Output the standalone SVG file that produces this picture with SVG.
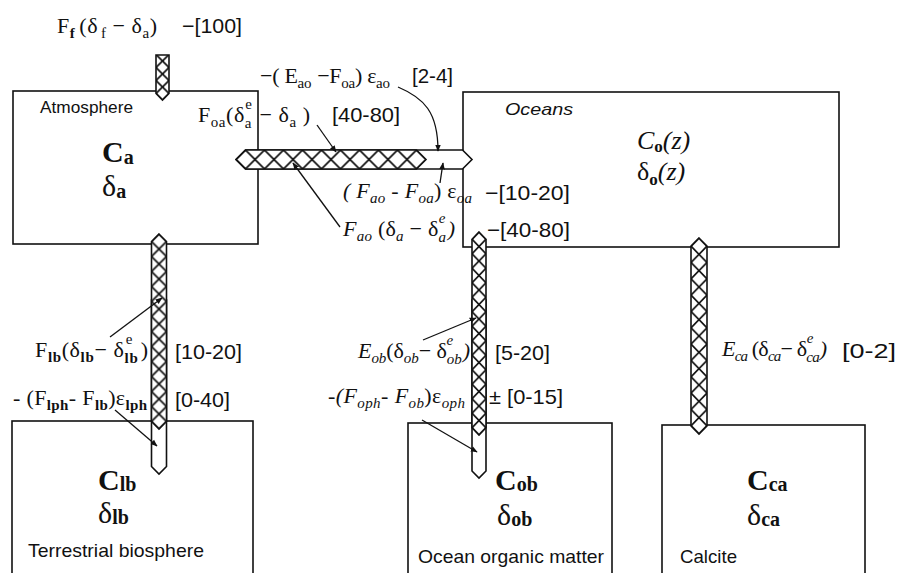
<svg xmlns="http://www.w3.org/2000/svg" width="897" height="573" viewBox="0 0 897 573">
<style>
.box{fill:none;stroke:#111;stroke-width:1.6}
.tube{fill:#fff;stroke:#111;stroke-width:1.6}
.hatch{stroke:#111;stroke-width:1.6}
.hx{stroke:#111;stroke-width:1.7;fill:none}
.ld{fill:none;stroke:#111;stroke-width:1.3}
.s{font-family:"Liberation Serif","Times New Roman",serif;fill:#111}
.f{font-size:22px}
.sb{font-size:15px}
.i{font-style:italic}
.up{font-style:normal}
.n{font-family:"Liberation Sans",Arial,sans-serif;fill:#111}
.b{font-weight:bold}
</style>
<defs>
<pattern id="pf" patternUnits="userSpaceOnUse" x="156" y="93.5" width="13" height="13"><rect width="13" height="13" fill="#fff"/><path class="hx" d="M0,0L13,13M13,0L0,13"/></pattern>
<pattern id="ph" patternUnits="userSpaceOnUse" x="226.5" y="150" width="19" height="19"><rect width="19" height="19" fill="#fff"/><path class="hx" d="M0,0L19,19M19,0L0,19"/></pattern>
<pattern id="p1" patternUnits="userSpaceOnUse" x="151.5" y="226.5" width="15" height="15"><rect width="15" height="15" fill="#fff"/><path class="hx" d="M0,0L15,15M15,0L0,15"/></pattern>
<pattern id="p2" patternUnits="userSpaceOnUse" x="472" y="224.75" width="14" height="14.5"><rect width="14" height="14.5" fill="#fff"/><path class="hx" d="M0,0L14,14.5M14,0L0,14.5"/></pattern>
<pattern id="p3" patternUnits="userSpaceOnUse" x="691" y="229.835" width="16" height="16.33"><rect width="16" height="16.33" fill="#fff"/><path class="hx" d="M0,0L16,16.33M16,0L0,16.33"/></pattern>
<marker id="ah" viewBox="0 0 10 10" refX="9" refY="5" markerWidth="7" markerHeight="7" orient="auto" markerUnits="userSpaceOnUse"><path d="M0,1 L10,5 L0,9 z" fill="#111"/></marker>
</defs>
<rect width="897" height="573" fill="#fff"/>

<g id="atmosphere">
<rect class="box" x="13" y="91" width="245" height="153"/>
<text class="n" x="40" y="113" font-size="17" textLength="93" lengthAdjust="spacingAndGlyphs">Atmosphere</text>
<text class="s b" x="102" y="162" font-size="30">C<tspan font-size="20" dy="2">a</tspan></text>
<text class="s" x="102" y="196" font-size="30">δ<tspan class="b" font-size="20" dy="2">a</tspan></text>
</g>

<g id="oceans">
<rect class="box" x="463" y="92" width="376" height="155"/>
<text class="n i" x="505" y="115" font-size="17" textLength="68" lengthAdjust="spacingAndGlyphs">Oceans</text>
<text class="s" x="637" y="149" font-size="26"><tspan class="i">C</tspan><tspan class="b" font-size="17" dy="3">o</tspan><tspan class="i" dy="-3">(z)</tspan></text>
<text class="s" x="637" y="180" font-size="26">δ<tspan class="b" font-size="17" dy="5">o</tspan><tspan class="i" dy="-5">(z)</tspan></text>
</g>

<g id="terrestrial-biosphere">
<rect class="box" x="12" y="421" width="241" height="200"/>
<text class="s b" x="98" y="490" font-size="30">C<tspan font-size="20" dy="1">lb</tspan></text>
<text class="s" x="98" y="523" font-size="30">δ<tspan class="b" font-size="20" dy="1">lb</tspan></text>
<text class="n" x="28" y="557" font-size="19" textLength="176" lengthAdjust="spacingAndGlyphs">Terrestrial biosphere</text>
</g>

<g id="ocean-organic-matter">
<rect class="box" x="408" y="423" width="204" height="200"/>
<text class="s b" x="495" y="490" font-size="30">C<tspan font-size="20" dy="1">ob</tspan></text>
<text class="s" x="497" y="525" font-size="30">δ<tspan class="b" font-size="20" dy="1">ob</tspan></text>
<text class="n" x="418" y="563" font-size="19" textLength="186" lengthAdjust="spacingAndGlyphs">Ocean organic matter</text>
</g>

<g id="calcite">
<rect class="box" x="662" y="425" width="203" height="200"/>
<text class="s b" x="747" y="490" font-size="30">C<tspan font-size="20" dy="1">ca</tspan></text>
<text class="s" x="747" y="525" font-size="30">δ<tspan class="b" font-size="20" dy="1">ca</tspan></text>
<text class="n" x="680" y="563" font-size="19" textLength="57" lengthAdjust="spacingAndGlyphs">Calcite</text>
</g>

<g id="connectors">
<polygon class="hatch" fill="url(#pf)" points="156,55 169,55 169,93.5 162.5,100 156,93.5"/>
<polygon class="tube" points="236,159.5 245.5,150 462.5,150 472,159.5 462.5,169 245.5,169"/>
<polygon class="hatch" fill="url(#ph)" points="236,159.5 245.5,150 416.5,150 426,159.5 416.5,169 245.5,169"/>
<polygon class="tube" points="151.5,300 166.5,300 166.5,466.5 159,474 151.5,466.5"/>
<polygon class="hatch" fill="url(#p1)" points="159,234 166.5,241.5 166.5,421.5 159,429 151.5,421.5 151.5,241.5"/>
<polygon class="tube" points="472,300 486,300 486,471 479,478 472,471"/>
<polygon class="hatch" fill="url(#p2)" points="479,232 486,239.25 486,427.75 479,435 472,427.75 472,239.25"/>
<polygon class="hatch" fill="url(#p3)" points="699,238 707,246.165 707,425.835 699,434 691,425.835 691,246.165"/>

<line class="ld" x1="317" y1="125" x2="336" y2="152" marker-end="url(#ah)"/>
<line class="ld" x1="340" y1="227" x2="293" y2="163" marker-end="url(#ah)"/>
<line class="ld" x1="440" y1="183" x2="443" y2="163" marker-end="url(#ah)"/>
<path class="ld" d="M398,87 C424,98 438,112 438,151" marker-end="url(#ah)"/>
<line class="ld" x1="110" y1="337" x2="162" y2="298" marker-end="url(#ah)"/>
<line class="ld" x1="115" y1="410" x2="157" y2="446" marker-end="url(#ah)"/>
<line class="ld" x1="423" y1="340" x2="476" y2="318" marker-end="url(#ah)"/>
<line class="ld" x1="422" y1="420" x2="477" y2="452" marker-end="url(#ah)"/>

<text class="s f" x="57" y="33" textLength="100">F<tspan class="b sb" dy="5">f</tspan><tspan dy="-5" dx="4">(δ</tspan><tspan class="sb" dy="5" dx="3">f</tspan><tspan dy="-5"> − δ</tspan><tspan class="sb" dy="5">a</tspan><tspan dy="-5">)</tspan></text>
<text class="n" x="182" y="33" font-size="21" textLength="60" lengthAdjust="spacingAndGlyphs">−[100]</text>

<text class="s f" x="260" y="83" textLength="130">−( E<tspan class="sb" dy="5">ao</tspan><tspan dy="-5" dx="6">−F</tspan><tspan class="sb" dy="5">oa</tspan><tspan dy="-5">) ε</tspan><tspan class="sb" dy="5">ao</tspan></text>
<text class="n" x="412" y="83" font-size="21" textLength="41" lengthAdjust="spacingAndGlyphs">[2-4]</text>

<text class="s f" x="198" y="122" textLength="112">F<tspan class="sb" dy="5">oa</tspan><tspan dy="-5">(δ</tspan><tspan class="sb" dy="6">a</tspan><tspan class="sb" dx="-6.7" dy="-19">e</tspan><tspan dy="13" dx="1"> − δ</tspan><tspan class="sb" dy="5">a</tspan><tspan dy="-5"> )</tspan></text>
<text class="n" x="332" y="122" font-size="21" textLength="68" lengthAdjust="spacingAndGlyphs">[40-80]</text>

<text class="s f i" x="343" y="198" textLength="129">( F<tspan class="sb" dy="5">ao</tspan><tspan dy="-5"> - F</tspan><tspan class="sb" dy="5">oa</tspan><tspan dy="-5" class="up">) ε</tspan><tspan class="sb" dy="5">oa</tspan></text>
<text class="n" x="485" y="200" font-size="21" textLength="85" lengthAdjust="spacingAndGlyphs">−[10-20]</text>

<text class="s f i" x="343" y="236" textLength="112">F<tspan class="sb" dy="5">ao</tspan><tspan dy="-5" class="up"> (δ</tspan><tspan class="sb" dy="5">a</tspan><tspan dy="-5" class="up"> − δ</tspan><tspan class="sb" dy="6">a</tspan><tspan class="sb" dx="-7.5" dy="-19">e</tspan><tspan dy="13" dx="2">)</tspan></text>
<text class="n" x="487" y="237" font-size="21" textLength="83" lengthAdjust="spacingAndGlyphs">−[40-80]</text>

<text class="s f" x="35" y="357" textLength="113">F<tspan class="b sb" dy="5">lb</tspan><tspan dy="-5">(δ</tspan><tspan class="b sb" dy="5">lb</tspan><tspan dy="-5">− δ</tspan><tspan class="b sb" dy="6">lb</tspan><tspan class="sb" dx="-12.5" dy="-19">e</tspan><tspan dy="13" dx="7.5">)</tspan></text>
<text class="n" x="175" y="359" font-size="21" textLength="67" lengthAdjust="spacingAndGlyphs">[10-20]</text>

<text class="s f" x="13" y="405" textLength="134">- (F<tspan class="b sb" dy="5">lph</tspan><tspan dy="-5">- F</tspan><tspan class="b sb" dy="5">lb</tspan><tspan dy="-5">)ε</tspan><tspan class="b sb" dy="5">lph</tspan></text>
<text class="n" x="175" y="407" font-size="21" textLength="55" lengthAdjust="spacingAndGlyphs">[0-40]</text>

<text class="s f i" x="358" y="358" textLength="112">E<tspan class="sb" dy="5">ob</tspan><tspan dy="-5" class="up">(δ</tspan><tspan class="sb" dy="5">ob</tspan><tspan dy="-5" class="up">− δ</tspan><tspan class="sb" dy="6">ob</tspan><tspan class="sb" dx="-15" dy="-19">e</tspan><tspan dy="13" dx="9.5">)</tspan></text>
<text class="n" x="495" y="360" font-size="21" textLength="55" lengthAdjust="spacingAndGlyphs">[5-20]</text>

<text class="s f i" x="328" y="403" textLength="137">-(F<tspan class="sb" dy="5">oph</tspan><tspan dy="-5">- F</tspan><tspan class="sb" dy="5">ob</tspan><tspan dy="-5" class="up">)ε</tspan><tspan class="sb" dy="5">oph</tspan></text>
<text class="n" x="489" y="404" font-size="21" textLength="74" lengthAdjust="spacingAndGlyphs">± [0-15]</text>

<text class="s f i" x="722" y="356" textLength="105">E<tspan class="sb" dy="5">ca</tspan><tspan dy="-5" class="up"> (δ</tspan><tspan class="sb" dy="5">ca</tspan><tspan dy="-5" class="up">− δ</tspan><tspan class="sb" dy="6">ca</tspan><tspan class="sb" dx="-12" dy="-19">e</tspan><tspan dy="13" dx="7">)</tspan></text>
<text class="n" x="842" y="358" font-size="21" textLength="54" lengthAdjust="spacingAndGlyphs">[0-2]</text>
</g>
</svg>
